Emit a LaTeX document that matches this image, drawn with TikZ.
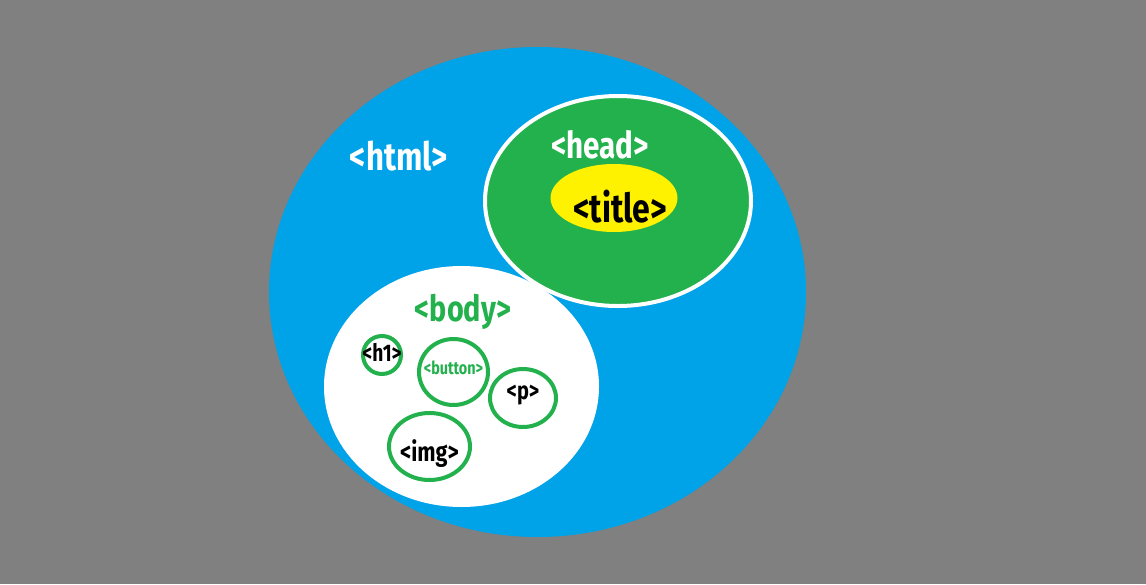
\documentclass[tikz,border=0pt]{standalone}
\usepackage{fontspec}
\newfontfamily\paintfont[FakeStretch=0.8]{Fira Sans}
\usetikzlibrary{calc, positioning}
\usetikzlibrary{shapes.geometric}

\definecolor{paintgray}{HTML}{808080}
\definecolor{paintblue}{HTML}{00A2E8}
\definecolor{paintgreen}{HTML}{22B14C}
\definecolor{paintyellow}{HTML}{FFF200}

\tikzset{
  blob/.style={ellipse, inner sep=0pt, outer sep=0pt},
  tagbubble/.style={blob, fill=white, draw=paintgreen, line width=4pt},
  tagtext/.style={font=\paintfont\bfseries\fontsize{#1}{#1}\selectfont, inner sep=0pt},
}

\begin{document}
\begin{tikzpicture}[x=1pt, y=-1pt]
% background
\fill[paintgray] (0,0) rectangle (1146,584);
\useasboundingbox (0,0) rectangle (1146,584);

% html
\node[blob, fill=paintblue, minimum width=537pt, minimum height=490pt] (html) at (537.5,292) {};
\node[tagtext=39, text=white] (htmllabel) at (399,156) {<html>};

% head
\node[blob, fill=paintgreen, draw=white, line width=4pt, minimum width=266pt, minimum height=210pt] (head) at (618,201) {};
\node[tagtext=37, text=white] (headlabel) at (600,145) {<head>};
\node[blob, fill=paintyellow, minimum width=127pt, minimum height=68pt] (title) at (614,198) {};
\node[tagtext=40, text=black] (titlelabel) at ($(title)+(6,9)$) {<title>};

% body
\node[blob, fill=white, minimum width=275pt, minimum height=241pt] (body) at (461.5,386.5) {};
\node[tagtext=36, text=paintgreen] (bodylabel) at (463,312) {<body>};

\node[tagbubble, minimum width=38pt, minimum height=38pt] (h1) at (382,355) {};
\node[tagtext=24, text=black] (h1label) at ($(h1)+(0,-3)$) {<h1>};

\node[tagbubble, minimum width=69pt, minimum height=66pt] (button) at (453.5,372) {};
\node[tagtext=18, text=paintgreen] (buttonlabel) at ($(button)+(0,-4)$) {<button>};

\node[tagbubble, minimum width=66pt, minimum height=58pt] (p) at (523,398) {};
\node[tagtext=25, text=black] (plabel) at ($(p)+(0,-3)$) {<p>};

\node[tagbubble, minimum width=81pt, minimum height=67pt] (img) at (429.5,446.5) {};
\node[tagtext=27, text=black] (imglabel) at ($(img)+(0,7)$) {<img>};
\end{tikzpicture}
\end{document}
